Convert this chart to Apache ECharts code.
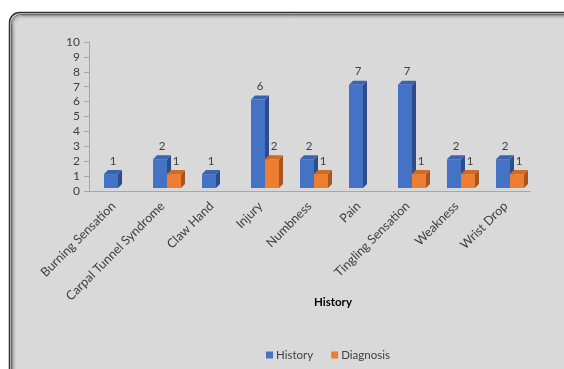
<!DOCTYPE html>
<html>
<head>
<meta charset="utf-8">
<script src="https://cdn.jsdelivr.net/npm/echarts@6/dist/echarts.min.js"></script>
<style>
  html, body { margin: 0; padding: 0; background: #ffffff; }
  #chart { width: 564px; height: 369px; }
</style>
</head>
<body>
<div id="chart"></div>
<script>
// Symptom counts reported in history vs. at diagnosis
const categories = [
  'Burning Sensation', 'Carpal Tunnel Syndrome', 'Claw Hand', 'Injury', 'Numbness',
  'Pain', 'Tingling Sensation', 'Weakness', 'Wrist Drop'
];
const historyValues   = [1, 2, 1, 6, 2, 7, 7, 2, 2];
const diagnosisValues = [0, 1, 0, 2, 1, 0, 1, 1, 1];
const yTicks = [0, 1, 2, 3, 4, 5, 6, 7, 8, 9, 10];

const FONT = 'Lato, "Open Sans", sans-serif';
const TEXT = '#404040';

// face colours: front, side, top
const palettes = [
  { front: '#4472c4', side: '#2c4d8a', top: '#3a63b0' },
  { front: '#ed7d31', side: '#a9561e', top: '#cf6a27' }
];

// Draws one pseudo-3D column (front face, right side, top) plus its value label
function columnRenderer(slot) {
  return function (params, api) {
    const idx = api.value(0);
    const v = api.value(1);
    if (!v) return null;
    const topPt = api.coord([idx, v]);
    const basePt = api.coord([idx, 0]);
    const band = api.size([1, 0])[0];
    const w = band * 14 / 49;
    const d = 4;
    const x0 = basePt[0] - band * 9.5 / 49 + slot * w;
    const yTop = topPt[1] - 2;
    const yBot = basePt[1] - 3;
    const c = palettes[slot];
    return {
      type: 'group',
      children: [
        { type: 'polygon', shape: { points: [[x0 + w, yTop], [x0 + w + d, yTop - d], [x0 + w + d, yBot - d], [x0 + w, yBot]] },
          style: { fill: c.side } },
        { type: 'polygon', shape: { points: [[x0, yTop], [x0 + d, yTop - d], [x0 + w + d, yTop - d], [x0 + w, yTop]] },
          style: { fill: c.top } },
        { type: 'rect', shape: { x: x0, y: yTop, width: w, height: yBot - yTop },
          style: { fill: c.front } },
        { type: 'text', style: { text: String(v), x: x0 + w / 2 + 2, y: yTop - d - 9,
            align: 'center', verticalAlign: 'middle', fill: TEXT, font: '11.5px ' + FONT } }
      ]
    };
  };
}

const chart = echarts.init(document.getElementById('chart'), null, { renderer: 'canvas' });

chart.setOption({
  backgroundColor: '#ffffff',
  animation: false,
  graphic: [
    // chart area frame with a soft inner shadow on the top-left edges
    { type: 'rect', z: -10, shape: { x: 9.5, y: 12.5, width: 600, height: 400, r: 10 },
      style: { fill: '#d9d9d9', stroke: '#2e2e2e', lineWidth: 1.5 } },
    { type: 'rect', z: -9, shape: { x: 11.5, y: 14.5, width: 600, height: 400, r: 9 },
      style: { fill: 'none', stroke: '#6a6a6a', lineWidth: 1 } },
    { type: 'rect', z: -9, shape: { x: 12.5, y: 15.5, width: 600, height: 400, r: 9 },
      style: { fill: 'none', stroke: '#959595', lineWidth: 1 } },
    { type: 'rect', z: -9, shape: { x: 13.5, y: 16.5, width: 600, height: 400, r: 8 },
      style: { fill: 'none', stroke: '#b4b4b4', lineWidth: 1 } },
    { type: 'rect', z: -9, shape: { x: 14.5, y: 17.5, width: 600, height: 400, r: 8 },
      style: { fill: 'none', stroke: '#c6c6c6', lineWidth: 1 } },
    { type: 'rect', z: -9, shape: { x: 15.5, y: 18.5, width: 600, height: 400, r: 8 },
      style: { fill: 'none', stroke: '#d0d0d0', lineWidth: 1 } },
    { type: 'text', left: 314, top: 296,
      style: { text: 'History', fill: '#000000', font: 'bold 11.5px ' + FONT } }
  ],
  grid: { left: 89, right: 34, top: 42, bottom: 178 },
  legend: {
    left: 261, top: 344,
    icon: 'rect', itemWidth: 7, itemHeight: 7, itemGap: 18,
    textStyle: { color: TEXT, fontFamily: FONT, fontSize: 11.5, padding: [0, 0, 0, -2] },
    data: ['History', 'Diagnosis']
  },
  xAxis: {
    type: 'category',
    data: categories,
    axisLine: { lineStyle: { color: '#a6a6a6', width: 1 } },
    axisTick: { length: 5, lineStyle: { color: '#a6a6a6' } },
    axisLabel: { rotate: 45, margin: 13, color: TEXT, fontFamily: FONT, fontSize: 12.5, interval: 0 }
  },
  yAxis: {
    type: 'value',
    min: yTicks[0], max: yTicks[yTicks.length - 1], interval: 1,
    axisLine: { show: true, lineStyle: { color: '#a6a6a6', width: 1 } },
    axisTick: { show: true, length: 5, lineStyle: { color: '#a6a6a6' } },
    splitLine: { show: false },
    axisLabel: { margin: 9, color: TEXT, fontFamily: FONT, fontSize: 12 }
  },
  series: [
    { name: 'History', type: 'custom', itemStyle: { color: palettes[0].front },
      renderItem: columnRenderer(0),
      data: historyValues.map((v, i) => [i, v]) },
    { name: 'Diagnosis', type: 'custom', itemStyle: { color: palettes[1].front },
      renderItem: columnRenderer(1),
      data: diagnosisValues.map((v, i) => [i, v]) }
  ]
});
</script>
</body>
</html>
